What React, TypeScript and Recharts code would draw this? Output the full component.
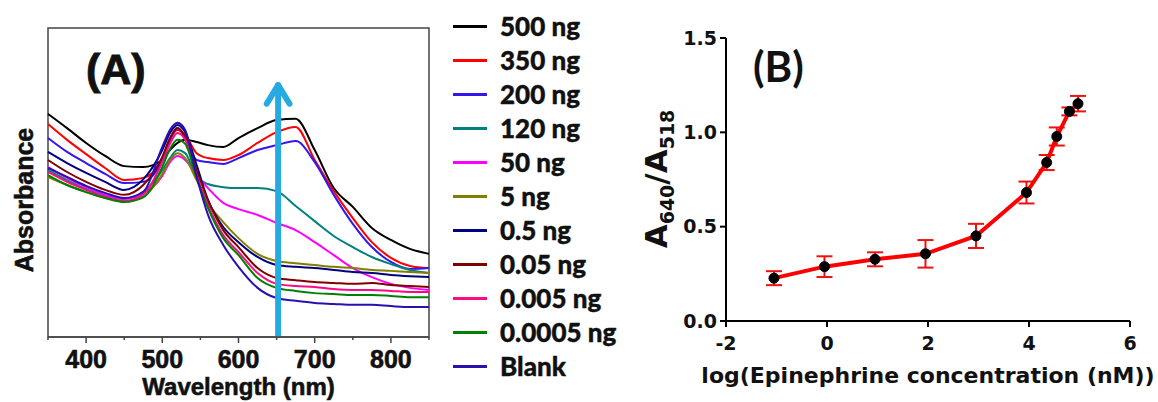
import { ErrorBar, Label, Line, LineChart, ReferenceArea, ReferenceLine, XAxis, YAxis } from 'recharts'

// ---- panel A: UV-vis spectra ----
const wavelengths = [350, 375, 400, 425, 450, 475, 500, 510, 520, 530, 545, 560, 580, 600, 625, 650, 675, 700, 725, 750, 775, 800, 825, 850]

const abs500ng = [0.722, 0.676, 0.628, 0.586, 0.553, 0.55, 0.573, 0.605, 0.628, 0.638, 0.631, 0.621, 0.615, 0.644, 0.676, 0.702, 0.706, 0.605, 0.482, 0.421, 0.353, 0.314, 0.285, 0.269]
const abs350ng = [0.689, 0.638, 0.592, 0.547, 0.508, 0.515, 0.573, 0.638, 0.67, 0.654, 0.595, 0.579, 0.573, 0.589, 0.628, 0.663, 0.68, 0.573, 0.472, 0.385, 0.307, 0.256, 0.23, 0.223]
const abs200ng = [0.644, 0.599, 0.563, 0.528, 0.498, 0.502, 0.573, 0.638, 0.676, 0.644, 0.573, 0.566, 0.56, 0.579, 0.605, 0.621, 0.634, 0.566, 0.46, 0.366, 0.291, 0.243, 0.22, 0.223]
const abs120ng = [0.54, 0.508, 0.479, 0.456, 0.447, 0.47, 0.54, 0.579, 0.605, 0.595, 0.518, 0.495, 0.485, 0.482, 0.482, 0.472, 0.424, 0.375, 0.327, 0.291, 0.259, 0.236, 0.217, 0.207]
const abs50ng = [0.55, 0.515, 0.485, 0.46, 0.447, 0.465, 0.521, 0.566, 0.586, 0.573, 0.524, 0.482, 0.434, 0.414, 0.395, 0.369, 0.346, 0.307, 0.265, 0.223, 0.194, 0.172, 0.159, 0.152]
const abs5ng = [0.518, 0.492, 0.469, 0.45, 0.44, 0.455, 0.528, 0.573, 0.595, 0.579, 0.508, 0.434, 0.372, 0.32, 0.269, 0.246, 0.239, 0.233, 0.227, 0.223, 0.217, 0.214, 0.21, 0.207]
const abs0p5ng = [0.599, 0.563, 0.531, 0.502, 0.476, 0.51, 0.605, 0.66, 0.686, 0.663, 0.557, 0.443, 0.356, 0.307, 0.259, 0.233, 0.227, 0.223, 0.217, 0.21, 0.207, 0.201, 0.197, 0.194]
const abs0p05ng = [0.573, 0.534, 0.502, 0.476, 0.46, 0.492, 0.583, 0.644, 0.676, 0.647, 0.54, 0.443, 0.346, 0.291, 0.223, 0.191, 0.184, 0.178, 0.175, 0.172, 0.175, 0.168, 0.165, 0.162]
const abs0p005ng = [0.534, 0.502, 0.476, 0.453, 0.44, 0.462, 0.566, 0.625, 0.66, 0.638, 0.524, 0.427, 0.33, 0.275, 0.207, 0.172, 0.165, 0.162, 0.155, 0.152, 0.152, 0.149, 0.146, 0.146]
const abs0p0005ng = [0.524, 0.492, 0.469, 0.45, 0.437, 0.452, 0.55, 0.608, 0.638, 0.625, 0.515, 0.417, 0.32, 0.265, 0.191, 0.159, 0.149, 0.142, 0.139, 0.136, 0.136, 0.133, 0.129, 0.129]
const absBlank = [0.547, 0.518, 0.489, 0.466, 0.45, 0.47, 0.615, 0.67, 0.693, 0.67, 0.52, 0.395, 0.298, 0.227, 0.159, 0.126, 0.117, 0.11, 0.107, 0.104, 0.104, 0.1, 0.097, 0.097]

const sampleNames = ['500 ng', '350 ng', '200 ng', '120 ng', '50 ng', '5 ng', '0.5 ng', '0.05 ng', '0.005 ng', '0.0005 ng', 'Blank']
const sampleColors = ['#000000', '#ff0000', '#3416ee', '#008080', '#ff00ff', '#808000', '#000080', '#800000', '#ff0a84', '#008000', '#2a10b0']
const spectra = [abs500ng, abs350ng, abs200ng, abs120ng, abs50ng, abs5ng, abs0p5ng, abs0p05ng, abs0p005ng, abs0p0005ng, absBlank]

const waveTicks = [350, 400, 450, 500, 550, 600, 650, 700, 750, 800, 850]

// ---- panel B: calibration ----
const logConc = [-1.05, -0.05, 0.95, 1.95, 2.95, 3.95, 4.35, 4.55, 4.8, 4.97]
const ratio = [0.227, 0.288, 0.327, 0.356, 0.451, 0.681, 0.84, 0.978, 1.111, 1.152]
const ratioErr = [0.037, 0.055, 0.037, 0.073, 0.064, 0.058, 0.04, 0.048, 0.021, 0.041]
const logTicks = [-2, 0, 2, 4, 6]
const ratioTicks = [0, 0.5, 1, 1.5]

const spectrumRows = wavelengths.map((w, i) => {
  const row: Record<string, number> = { w }
  spectra.forEach((s, k) => {
    row['s' + k] = s[i]
  })
  return row
})

const calRows = logConc.map((x, i) => ({ x, y: ratio[i], err: ratioErr[i] }))

const ARIAL = '"Liberation Sans", Arial, sans-serif'
const VERDANA = '"DejaVu Sans", Verdana, sans-serif'
const CALIBRI = 'Lato, "Open Sans", sans-serif'
const ARROW = '#27aae1'
const INK = '#111'

function WaveTick({ x, y, payload }: any) {
  const v = payload.value
  const major = v % 100 === 0
  const y0 = y - 8
  return (
    <g>
      <line x1={x} x2={x} y1={y0} y2={y0 + (major ? 6 : 3)} stroke="#444" strokeWidth={1.5} />
      {major && (
        <text x={x} y={y0 + 31} textAnchor="middle" fontFamily={ARIAL} fontWeight="bold" fontSize={25} fill={INK} stroke={INK} strokeWidth={0.6}>
          {v}
        </text>
      )}
    </g>
  )
}

function SpectraPanel() {
  return (
    <LineChart width={440} height={402} data={spectrumRows} margin={{ top: 28, right: 11, left: 0, bottom: 0 }}>
      <XAxis
        type="number"
        dataKey="w"
        domain={[350, 850]}
        ticks={waveTicks}
        interval={0}
        height={65}
        tickSize={6}
        tickMargin={2}
        tickLine={false}
        axisLine={{ stroke: '#444', strokeWidth: 1.5 }}
        tick={<WaveTick />}
      >
        <Label
          value="Wavelength (nm)"
          position="insideBottom"
          offset={7}
          fill={INK}
          stroke={INK}
          strokeWidth={0.6}
          fontSize={24}
          fontWeight="bold"
          fontFamily={ARIAL}
        />
      </XAxis>
      <YAxis
        type="number"
        domain={[0, 1]}
        width={48}
        tick={false}
        tickLine={false}
        axisLine={false}
        label={{
          content: () => (
            <text
              x={33}
              y={200}
              transform="rotate(-90 33 200)"
              textAnchor="middle"
              fontFamily={ARIAL}
              fontWeight="bold"
              fontSize={25}
              fill={INK}
              stroke={INK}
              strokeWidth={0.6}
            >
              Absorbance
            </text>
          ),
        }}
      />
      <ReferenceArea x1={350} x2={850} y1={0} y2={1} fill="none" stroke="#444" strokeWidth={1.5} />
      {spectra.map((_, k) => (
        <Line
          key={k}
          dataKey={'s' + k}
          name={sampleNames[k]}
          type="monotone"
          stroke={sampleColors[k]}
          strokeWidth={2}
          dot={false}
          isAnimationActive={false}
        />
      ))}
      <ReferenceLine segment={[{ x: 652, y: 0 }, { x: 652, y: 0.815 }]} stroke={ARROW} strokeWidth={6} />
      <ReferenceLine segment={[{ x: 637, y: 0.755 }, { x: 652, y: 0.815 }]} stroke={ARROW} strokeWidth={6} strokeLinecap="round" />
      <ReferenceLine segment={[{ x: 667, y: 0.755 }, { x: 652, y: 0.815 }]} stroke={ARROW} strokeWidth={6} strokeLinecap="round" />
    </LineChart>
  )
}

function SpectraLegend() {
  return (
    <div style={{ position: 'absolute', left: 453, top: 9 }}>
      {sampleNames.map((name, k) => (
        <div key={name} style={{ display: 'flex', alignItems: 'center', height: 34 }}>
          <span style={{ width: 34, height: 3, background: sampleColors[k], marginRight: 13 }} />
          <span
            style={{
              fontFamily: CALIBRI,
              fontWeight: 900,
              fontSize: 26,
              color: INK,
              lineHeight: '34px',
              WebkitTextStroke: '0.4px #111',
            }}
          >
            {name}
          </span>
        </div>
      ))}
    </div>
  )
}

function CalibrationPanel() {
  return (
    <LineChart width={518} height={402} data={calRows} margin={{ top: 38, right: 28, left: 0, bottom: 0 }}>
      <XAxis
        type="number"
        dataKey="x"
        domain={[-2, 6]}
        ticks={logTicks}
        interval={0}
        height={81}
        tickSize={6}
        tickMargin={10}
        axisLine={{ stroke: '#000', strokeWidth: 2 }}
        tickLine={{ stroke: '#000', strokeWidth: 2 }}
        tick={{ fill: INK, fontSize: 19, fontWeight: 'bold', fontFamily: VERDANA }}
      >
        <Label
          value="log(Epinephrine concentration (nM))"
          position="insideBottom"
          offset={19}
          fill={INK}
          fontSize={22}
          fontWeight="bold"
          fontFamily={VERDANA}
        />
      </XAxis>
      <YAxis
        type="number"
        domain={[0, 1.5]}
        ticks={ratioTicks}
        interval={0}
        width={86}
        tickSize={6}
        tickMargin={3}
        tickFormatter={(v: number) => v.toFixed(1)}
        axisLine={{ stroke: '#000', strokeWidth: 2 }}
        tickLine={{ stroke: '#000', strokeWidth: 2 }}
        tick={{ fill: INK, fontSize: 19, fontWeight: 'bold', fontFamily: VERDANA }}
      />
      <Line
        dataKey="y"
        type="linear"
        stroke="#ff0000"
        strokeWidth={4}
        dot={{ r: 5, fill: '#000', stroke: '#000', strokeWidth: 1 }}
        isAnimationActive={false}
      >
        <ErrorBar dataKey="err" direction="y" width={8} stroke="#ee1111" strokeWidth={2} />
      </Line>
    </LineChart>
  )
}

export default function App() {
  return (
    <div style={{ position: 'absolute', left: 0, top: 0, width: 1158, height: 402, background: '#fff', overflow: 'hidden' }}>
      <div style={{ position: 'absolute', left: 0, top: 0 }}>
        <SpectraPanel />
      </div>
      <SpectraLegend />
      <div style={{ position: 'absolute', left: 640, top: 0 }}>
        <CalibrationPanel />
      </div>
      <svg width={1158} height={402} style={{ position: 'absolute', left: 0, top: 0, pointerEvents: 'none' }}>
        <text x={86} y={84} fontFamily={ARIAL} fontWeight="bold" fontSize={43} fill={INK} stroke={INK} strokeWidth={0.9}>
          (A)
        </text>
        <text x={753} y={82} fontFamily={CALIBRI} fontWeight="bold" fontSize={42} fill={INK}>
          (B)
        </text>
        {/* y-axis title of panel B, A640/A518 with subscripts */}
        <text
          x={667}
          y={179}
          transform="rotate(-90 667 179)"
          textAnchor="middle"
          fontFamily={VERDANA}
          fontWeight="bold"
          fontSize={31}
          fill={INK}
        >
          A
          <tspan fontSize={19} dy={7}>
            640
          </tspan>
          <tspan dy={-7}>/A</tspan>
          <tspan fontSize={19} dy={7}>
            518
          </tspan>
        </text>
      </svg>
    </div>
  )
}
